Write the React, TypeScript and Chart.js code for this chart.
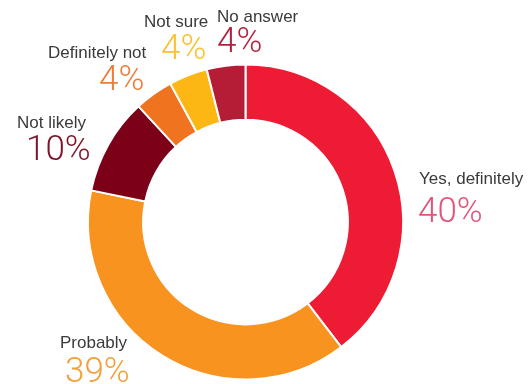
import React, { useEffect, useRef } from "react";
import { Chart, registerables } from "chart.js";

Chart.register(...registerables);

const categories = ["Yes, definitely", "Probably", "Not likely", "Definitely not", "Not sure", "No answer"];
const values = [40, 39, 10, 4, 4, 4];
const valueLabels = ["40%", "39%", "10%", "4%", "4%", "4%"];
const sliceColors = ["#ED1B34", "#F7931E", "#7D0019", "#F07320", "#FDB714", "#B41D35"];
const percentColors = ["#E25479", "#F3A03A", "#7D1428", "#EE7C3A", "#F8C230", "#B0233F"];

// label anchor positions (left x, category baseline y, percent left x, percent baseline y)
const labelPos = [
  [419, 184, 418, 222],
  [60, 348, 65, 382],
  [17, 128, 26, 160],
  [48, 58, 99, 90],
  [144, 27, 161, 59],
  [217, 22, 217, 52],
];

const labelPlugin = {
  id: "sliceLabels",
  afterDraw(chart: any) {
    const ctx = chart.ctx;
    ctx.save();
    ctx.textAlign = "left";
    ctx.textBaseline = "alphabetic";
    categories.forEach((c, i) => {
      const p = labelPos[i];
      ctx.fillStyle = "#3a3a3a";
      ctx.font = "17px 'Liberation Sans', Arial, sans-serif";
      ctx.fillText(c, p[0], p[1]);
      ctx.fillStyle = percentColors[i];
      ctx.font = "300 35px Roboto, 'Liberation Sans', sans-serif";
      ctx.fillText(valueLabels[i], p[2], p[3]);
    });
    ctx.restore();
  },
};

export default function App() {
  const ref = useRef<HTMLCanvasElement | null>(null);
  useEffect(() => {
    if (!ref.current) return;
    const chart = new Chart(ref.current, {
      type: "doughnut",
      data: {
        labels: categories,
        datasets: [
          {
            data: values,
            backgroundColor: sliceColors,
            borderColor: "#ffffff",
            borderWidth: 2,
          },
        ],
      },
      options: {
        responsive: false,
        animation: false,
        cutout: "65%",
        layout: { padding: { left: 87, right: 125, top: 63, bottom: 3 } },
        plugins: { legend: { display: false }, tooltip: { enabled: false } },
      },
      plugins: [labelPlugin],
    });
    return () => chart.destroy();
  }, []);
  return (
    <div style={{ position: "fixed", left: 0, top: 0, width: 529, height: 384, background: "#fff" }}>
      <canvas ref={ref} width={529} height={384} />
    </div>
  );
}
